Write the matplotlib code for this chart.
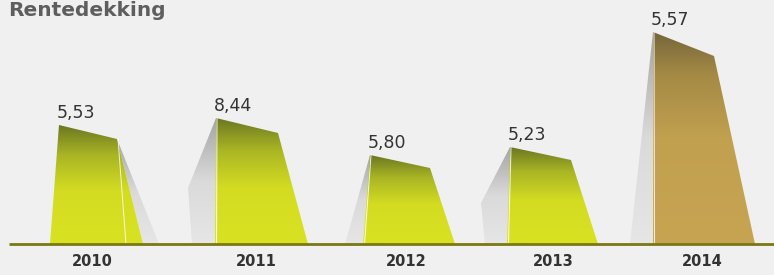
import numpy as np
import matplotlib.pyplot as plt
from matplotlib.patches import Polygon
from matplotlib.colors import LinearSegmentedColormap

# data
years = ['2010', '2011', '2012', '2013', '2014']
value_labels = ['5,53', '8,44', '5,80', '5,23', '5,57']
bar_heights = [119, 126, 89, 97, 212]        # left edge height above the baseline
bar_heights_right = [105, 111, 76, 84, 188]  # right top corner height

# styling / shape of each fake 3D bar (px relative to the year label centre)
x_shift = [0, 11.5, 9, 3.5, 0]
bottom_left = [-42, -41, -43, -46, -49]
top_left = [-33, -40, -36, -43, -49]
top_right = [25, 22, 24, 18, 12]
bottom_right = [51, 52, 49, 45, 53]
shadow_side = ['right', 'left', 'left', 'left', 'left']
shadow_out = [16, 27, 18, 26, 23]       # how far the shadow reaches out at the bottom
shadow_knee = [0, 56, 0, 41, 0]         # height of the bend in the left shadow
bar_kind = ['green', 'green', 'green', 'green', 'gold']

px = 152.5  # pixels per category step
green_cmap = LinearSegmentedColormap.from_list(
    'g', [(0, '#d9e221'), (0.45, '#d3dc22'), (0.75, '#a9b524'), (1, '#6b7722')])
gold_cmap = LinearSegmentedColormap.from_list(
    'o', [(0, '#c6a452'), (0.5, '#c1a050'), (0.8, '#a48a45'), (1, '#76663a')])
gray_cmap = LinearSegmentedColormap.from_list(
    's', [(0, '#e6e6e6'), (0.5, '#dadada'), (1, '#a4a4a4')])

fig = plt.figure(figsize=(7.74, 2.75), dpi=100)
fig.patch.set_facecolor('#f0f0f0')
ax = fig.add_axes([0, 0, 1, 1])
ax.set_facecolor('#f0f0f0')
ax.set_xlim(-92 / px, (774 - 92) / px)
ax.set_ylim(-31, 244)
ax.axis('off')


def grad_fill(poly, cmap, ymax, zorder):
    patch = Polygon(poly, closed=True, facecolor='none', edgecolor='none')
    ax.add_patch(patch)
    xs = [p[0] for p in poly]
    grad = np.linspace(0, 1, 256).reshape(-1, 1)
    grad = np.repeat(grad, 2, axis=1)
    im = ax.imshow(grad, cmap=cmap, aspect='auto', origin='lower',
                   extent=[min(xs), max(xs), 0, ymax], zorder=zorder,
                   interpolation='bilinear')
    im.set_clip_path(patch)


for i in range(len(years)):
    c = i + x_shift[i] / px
    h = bar_heights[i]
    hr = bar_heights_right[i]
    bl = c + bottom_left[i] / px
    tl = c + top_left[i] / px
    tr = c + top_right[i] / px
    br = c + bottom_right[i] / px

    # shadow
    if shadow_side[i] == 'right':
        sh = [(tr, hr), (br + shadow_out[i] / px, 0), (br, 0)]
        grad_fill(sh, gray_cmap, hr, 1)
    else:
        if shadow_knee[i] > 0:
            sh = [(tl, h), (bl - shadow_out[i] / px, shadow_knee[i]),
                  (bl - (shadow_out[i] - 4) / px, 0), (bl, 0)]
        else:
            sh = [(tl, h), (bl - shadow_out[i] / px, 0), (bl, 0)]
        grad_fill(sh, gray_cmap, h, 1)

    bar = [(bl, 0), (tl, h), (tr, hr), (br, 0)]
    grad_fill(bar, green_cmap if bar_kind[i] == 'green' else gold_cmap, h, 2)

    # thin highlight lines
    if shadow_side[i] == 'right':
        ax.plot([tr + 1 / px, tr + 9 / px], [hr, 0], color='white', lw=0.7, alpha=0.8, zorder=3)
    else:
        ax.plot([tl + 1 / px, bl + 1.5 / px], [h, 0], color='white', lw=0.8, alpha=0.8, zorder=3)

    ax.text(tl - 2 / px, h + 3, value_labels[i], ha='left', va='bottom',
            fontsize=12.5, color='#333333', zorder=4)
    ax.text(c, -10, years[i], ha='center', va='top', fontsize=10.5,
            fontweight='bold', color='#333333')

# baseline
ax.plot([-83 / px, (774 - 92) / px], [0, 0], color='#7a7812', lw=2, zorder=5,
        solid_capstyle='butt')

fig.text(8 / 774, 1 - 1 / 275, 'Rentedekking', ha='left', va='top',
         fontsize=14.5, fontweight='bold', color='#5e5e5e')

plt.savefig('out.png', dpi=100, facecolor=fig.get_facecolor())
